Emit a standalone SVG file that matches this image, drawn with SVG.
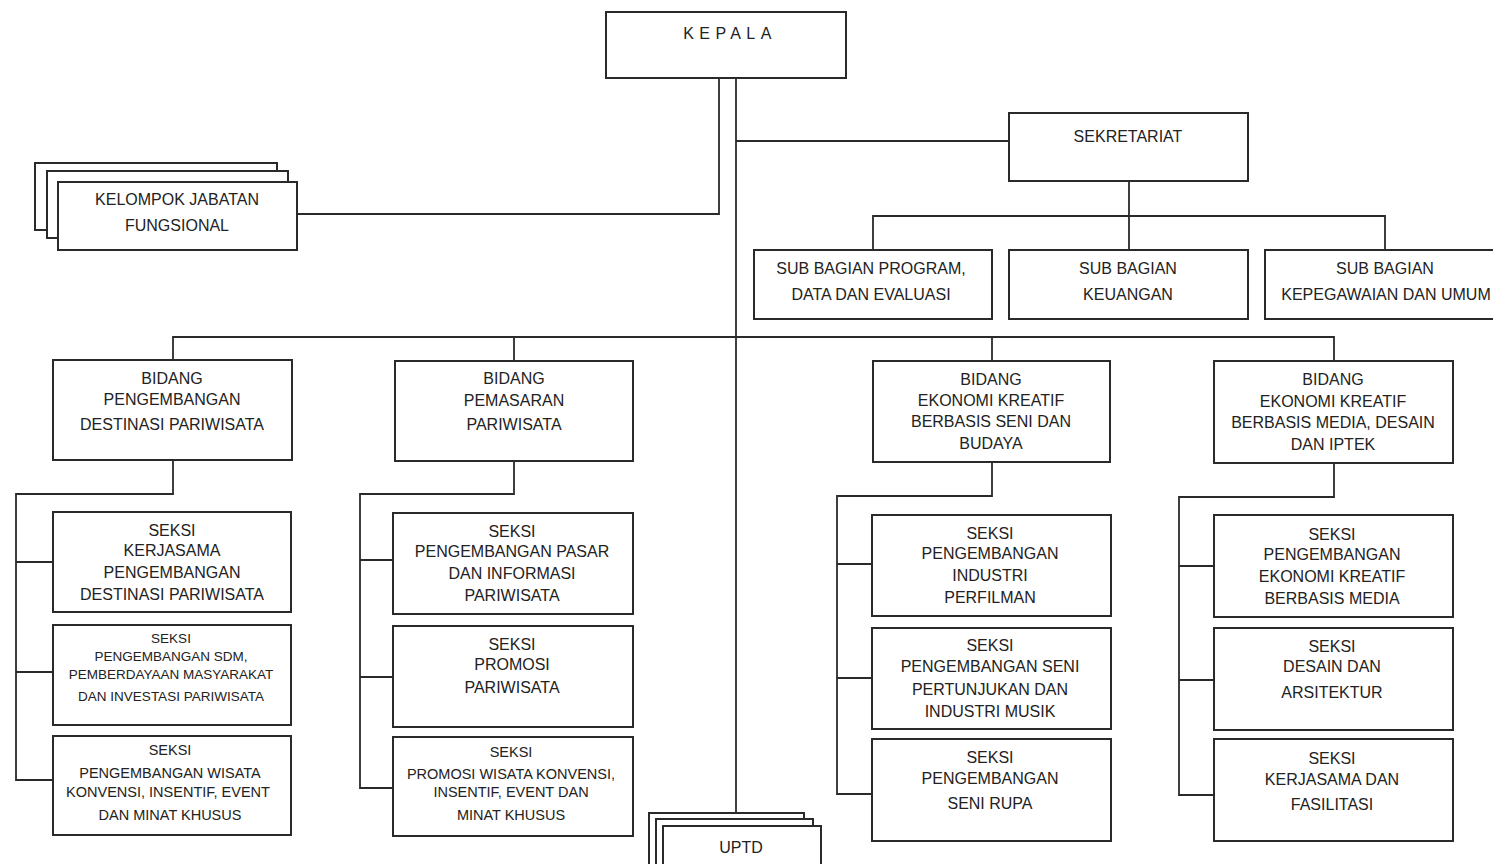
<svg xmlns="http://www.w3.org/2000/svg" width="1493" height="864" viewBox="0 0 1493 864">
<style>
.box{fill:#fff;stroke:#2a2a2a;stroke-width:2}
.ln{fill:none;stroke:#2a2a2a;stroke-width:1.8}
text{font-family:"Liberation Sans",Arial,sans-serif;font-size:16px;fill:#222;text-anchor:middle}
.s{font-size:13.5px}
.m{font-size:14.5px}
</style>
<rect width="1493" height="864" fill="#fff"/>
<g id="connectors">
<path class="ln" d="M719 78V214H297"/>
<path class="ln" d="M736 78V813"/>
<path class="ln" d="M736 141H1009"/>
<path class="ln" d="M1129 181V216M873 250V216H1385V250M1129 216V250"/>
<path class="ln" d="M173 360V337H1334V361M514 337V361M992 337V361"/>
<path class="ln" d="M173 460V494H16V780H53M16 562H53M16 672H53"/>
<path class="ln" d="M514 461V494H360V788H393M360 560H393M360 677H393"/>
<path class="ln" d="M992 462V496H837V794H872M837 564H872M837 678H872"/>
<path class="ln" d="M1334 463V497H1179V795H1214M1179 566H1214M1179 680H1214"/>
</g>
<g id="kepala"><rect class="box" x="606" y="12" width="240" height="66"/><text x="730" y="39" style="letter-spacing:5.4px">KEPALA</text></g>
<g id="sekretariat"><rect class="box" x="1009" y="113" width="239" height="68"/><text x="1128" y="142">SEKRETARIAT</text></g>
<g id="kelompok">
<rect class="box" x="35" y="163" width="242" height="67"/>
<rect class="box" x="47" y="171" width="241" height="67"/>
<rect class="box" x="58" y="182" width="239" height="68"/>
<text x="177" y="205">KELOMPOK JABATAN</text><text x="177" y="231">FUNGSIONAL</text></g>
<g id="subbag1"><rect class="box" x="754" y="250" width="238" height="69"/><text x="871" y="274">SUB BAGIAN PROGRAM,</text><text x="871" y="300">DATA DAN EVALUASI</text></g>
<g id="subbag2"><rect class="box" x="1009" y="250" width="239" height="69"/><text x="1128" y="274">SUB BAGIAN</text><text x="1128" y="300">KEUANGAN</text></g>
<g id="subbag3"><rect class="box" x="1265" y="250" width="240" height="69"/><text x="1385" y="274">SUB BAGIAN</text><text x="1386" y="300">KEPEGAWAIAN DAN UMUM</text></g>
<g id="bidang1"><rect class="box" x="53" y="360" width="239" height="100"/><text x="172" y="384">BIDANG</text><text x="172" y="405">PENGEMBANGAN</text><text x="172" y="430">DESTINASI PARIWISATA</text></g>
<g id="bidang2"><rect class="box" x="395" y="361" width="238" height="100"/><text x="514" y="384">BIDANG</text><text x="514" y="406">PEMASARAN</text><text x="514" y="430">PARIWISATA</text></g>
<g id="bidang3"><rect class="box" x="873" y="361" width="237" height="101"/><text x="991" y="385">BIDANG</text><text x="991" y="406">EKONOMI KREATIF</text><text x="991" y="427">BERBASIS SENI DAN</text><text x="991" y="449">BUDAYA</text></g>
<g id="bidang4"><rect class="box" x="1214" y="361" width="239" height="102"/><text x="1333" y="385">BIDANG</text><text x="1333" y="407">EKONOMI KREATIF</text><text x="1333" y="428">BERBASIS MEDIA, DESAIN</text><text x="1333" y="450">DAN IPTEK</text></g>
<g id="seksi1a"><rect class="box" x="53" y="512" width="238" height="100"/><text x="172" y="536">SEKSI</text><text x="172" y="556">KERJASAMA</text><text x="172" y="578">PENGEMBANGAN</text><text x="172" y="600">DESTINASI PARIWISATA</text></g>
<g id="seksi1b"><rect class="box" x="53" y="625" width="238" height="100"/><text class="s" x="171" y="643">SEKSI</text><text class="s" x="171" y="661">PENGEMBANGAN SDM,</text><text class="s" x="171" y="679">PEMBERDAYAAN MASYARAKAT</text><text class="s" x="171" y="701">DAN INVESTASI PARIWISATA</text></g>
<g id="seksi1c"><rect class="box" x="53" y="736" width="238" height="99"/><text class="m" x="170" y="755">SEKSI</text><text class="m" x="170" y="778">PENGEMBANGAN WISATA</text><text class="m" x="168" y="797">KONVENSI, INSENTIF, EVENT</text><text class="m" x="170" y="820">DAN MINAT KHUSUS</text></g>
<g id="seksi2a"><rect class="box" x="393" y="513" width="240" height="101"/><text x="512" y="537">SEKSI</text><text x="512" y="557">PENGEMBANGAN PASAR</text><text x="512" y="579">DAN INFORMASI</text><text x="512" y="601">PARIWISATA</text></g>
<g id="seksi2b"><rect class="box" x="393" y="626" width="240" height="101"/><text x="512" y="650">SEKSI</text><text x="512" y="670">PROMOSI</text><text x="512" y="693">PARIWISATA</text></g>
<g id="seksi2c"><rect class="box" x="393" y="737" width="240" height="99"/><text class="m" x="511" y="757">SEKSI</text><text class="m" x="511" y="779">PROMOSI WISATA KONVENSI,</text><text class="m" x="511" y="797">INSENTIF, EVENT DAN</text><text class="m" x="511" y="820">MINAT KHUSUS</text></g>
<g id="seksi3a"><rect class="box" x="872" y="515" width="239" height="101"/><text x="990" y="539">SEKSI</text><text x="990" y="559">PENGEMBANGAN</text><text x="990" y="581">INDUSTRI</text><text x="990" y="603">PERFILMAN</text></g>
<g id="seksi3b"><rect class="box" x="872" y="628" width="239" height="101"/><text x="990" y="651">SEKSI</text><text x="990" y="672">PENGEMBANGAN SENI</text><text x="990" y="695">PERTUNJUKAN DAN</text><text x="990" y="717">INDUSTRI MUSIK</text></g>
<g id="seksi3c"><rect class="box" x="872" y="739" width="239" height="102"/><text x="990" y="763">SEKSI</text><text x="990" y="784">PENGEMBANGAN</text><text x="990" y="809">SENI RUPA</text></g>
<g id="seksi4a"><rect class="box" x="1214" y="515" width="239" height="102"/><text x="1332" y="540">SEKSI</text><text x="1332" y="560">PENGEMBANGAN</text><text x="1332" y="582">EKONOMI KREATIF</text><text x="1332" y="604">BERBASIS MEDIA</text></g>
<g id="seksi4b"><rect class="box" x="1214" y="628" width="239" height="102"/><text x="1332" y="652">SEKSI</text><text x="1332" y="672">DESAIN DAN</text><text x="1332" y="698">ARSITEKTUR</text></g>
<g id="seksi4c"><rect class="box" x="1214" y="739" width="239" height="102"/><text x="1332" y="764">SEKSI</text><text x="1332" y="785">KERJASAMA DAN</text><text x="1332" y="810">FASILITASI</text></g>
<g id="uptd">
<rect class="box" x="649" y="813" width="155" height="60"/>
<rect class="box" x="656" y="819" width="157" height="60"/>
<rect class="box" x="663" y="826" width="158" height="60"/>
<text x="741" y="853">UPTD</text></g>
</svg>
